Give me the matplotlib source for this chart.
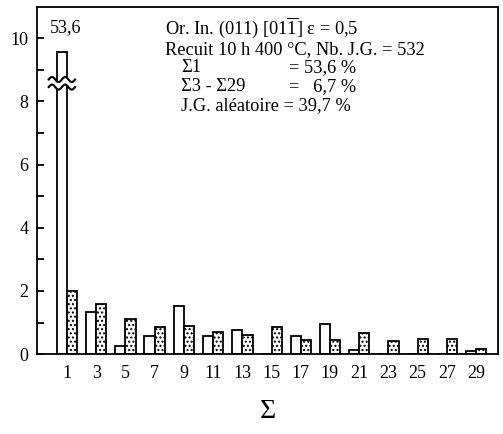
import numpy as np
import matplotlib
matplotlib.use("Agg")
import matplotlib.pyplot as plt

plt.rcParams['font.family'] = ['Liberation Serif', 'DejaVu Serif']
plt.rcParams['mathtext.fontset'] = 'custom'
plt.rcParams['mathtext.rm'] = 'Liberation Serif'
plt.rcParams['hatch.linewidth'] = 1.0

# Sigma values (odd only)
sigma = [1, 3, 5, 7, 9, 11, 13, 15, 17, 19, 21, 23, 25, 27, 29]
# measured grain boundary frequencies (%), Sigma 1 truncated (real value 53.6)
measured = [53.6, 1.34, 0.25, 0.57, 1.53, 0.57, 0.76, 0.0, 0.57, 0.95, 0.13, 0.0, 0.0, 0.0, 0.11]
# random distribution (%)
random_gb = [2.01, 1.58, 1.10, 0.87, 0.89, 0.70, 0.62, 0.86, 0.46, 0.46, 0.66, 0.42, 0.47, 0.49, 0.16]

cut_level = 9.55   # height at which the Sigma 1 bar is drawn
break_level = 8.57

info_lines = ["Or. In. (011) [01$\\mathregular{\\overline{1}}$] ε = 0,5",
              "Recuit 10 h 400 °C, Nb. J.G. = 532"]
sum_labels = ["Σ1", "Σ3 - Σ29"]
sum_values = ["= 53,6 %", "=   6,7 %"]
random_line = "J.G. aléatoire = 39,7 %"

fig = plt.figure(figsize=(5.03, 4.34), dpi=100)
ax = fig.add_axes([0.0736, 0.184, 0.9164, 0.801])

x = np.array(sigma, dtype=float)
shown = np.minimum(measured, cut_level)
w = 0.7
ax.bar(x - w, shown, width=w, align='edge', facecolor='white', edgecolor='black', linewidth=1.3)
ax.bar(x, random_gb, width=w, align='edge', facecolor='white', edgecolor='black',
       linewidth=1.3, hatch='....')

# break marks on the truncated Sigma 1 bar
xc = x[0] - w / 2
xs = np.linspace(xc - 0.9, xc + 0.9, 60)
wave = 0.08 * np.sin((xs - xc) * 2 * np.pi / 0.9)
ax.fill_between(xs, break_level - 0.1 + wave, break_level + 0.1 + wave, color='white', zorder=3)
ax.plot(xs, break_level - 0.12 + wave, color='black', lw=1.5, zorder=4)
ax.plot(xs, break_level + 0.12 + wave, color='black', lw=1.5, zorder=4)
ax.text(xc + 0.25, 10.05, "53,6", ha='center', va='bottom', fontsize=13)

# info text
fs = 13.2
ax.text(7.7, 10.33, info_lines[0], fontsize=fs, va='center')
ax.text(7.7, 9.65, info_lines[1], fontsize=fs, va='center')
for i in range(2):
    ax.text(8.8, 9.06 - 0.6 * i, sum_labels[i], fontsize=fs, va='center')
    ax.text(16.2, 9.06 - 0.6 * i, sum_values[i], fontsize=fs, va='center')
ax.text(8.8, 7.86, random_line, fontsize=fs, va='center')

ax.set_xlim(-1.05, 30.5)
ax.set_ylim(0, 11)
ax.set_xticks(sigma)
ax.set_xticklabels([str(s) for s in sigma])
ax.set_yticks([0, 2, 4, 6, 8, 10])
ax.set_yticks(range(1, 11, 2), minor=True)
ax.tick_params(axis='x', length=0, pad=8, labelsize=13)
ax.tick_params(axis='y', which='both', direction='in', length=5, width=1.3, pad=6, labelsize=13)
for s in ax.spines.values():
    s.set_linewidth(1.3)
ax.set_xlabel("Σ", fontsize=20, labelpad=12)

fig.savefig("out.png", dpi=100)
